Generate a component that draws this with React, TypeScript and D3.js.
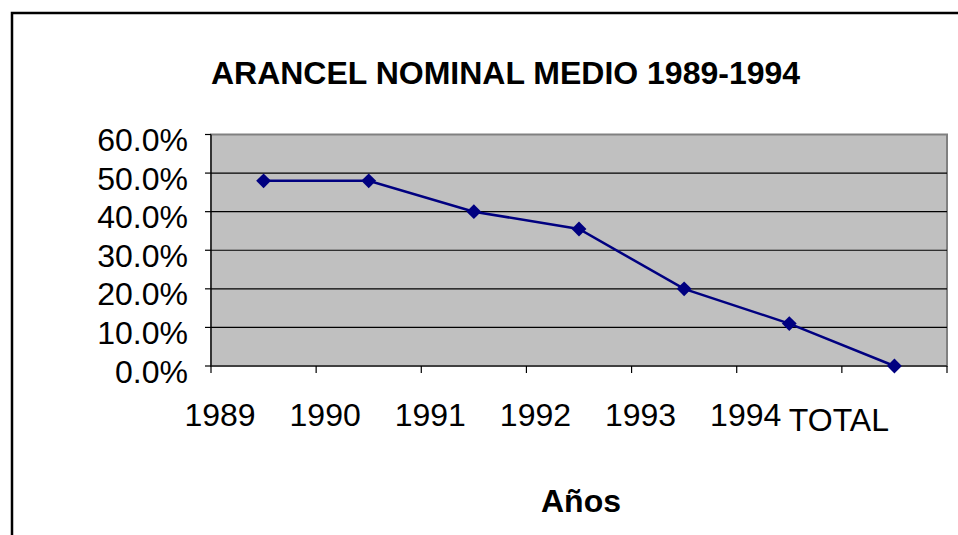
import React from "react";
import * as d3 from "d3";

const categories: string[] = ["1989", "1990", "1991", "1992", "1993", "1994", "TOTAL"];
const values: number[] = [0.48, 0.48, 0.40, 0.355, 0.20, 0.11, 0.0];
const yTicks: number[] = [0, 0.1, 0.2, 0.3, 0.4, 0.5, 0.6];
const title = "ARANCEL NOMINAL MEDIO 1989-1994";
const xTitle = "Años";

const W = 958;
const H = 535;
const plot = { left: 211, right: 947, top: 134.5, bottom: 366 };
const FONT = "'Liberation Sans', Arial, sans-serif";

export default function App() {
  const x = d3.scaleBand<string>().domain(categories).range([plot.left, plot.right]).padding(0);
  const y = d3.scaleLinear().domain([0, 0.6]).range([plot.bottom, plot.top]);
  const fmt = d3.format(".1%");
  const line = d3
    .line<number>()
    .x((_, i) => (x(categories[i]) as number) + x.bandwidth() / 2)
    .y((d) => y(d));
  const diamond = d3.symbol().type(d3.symbolDiamond2).size(140)();

  return (
    <svg width={W} height={H} style={{ position: "absolute", left: 0, top: 0, display: "block" }}>
      <rect x={0} y={0} width={W} height={H} fill="#fff" />
      {/* outer chart frame */}
      <rect x={12} y={13} width={W + 20} height={H + 20} fill="none" stroke="#000" strokeWidth={2.5} />
      <text x={505.5} y={84} textAnchor="middle" fontFamily={FONT} fontWeight="bold" fontSize={32}>
        {title}
      </text>
      {/* plot area */}
      <rect
        x={plot.left}
        y={plot.top}
        width={plot.right - plot.left}
        height={plot.bottom - plot.top}
        fill="#c0c0c0"
        stroke="#808080"
        strokeWidth={2}
      />
      {yTicks.map((t) => (
        <g key={t}>
          {t > 0 && t < 0.6 && (
            <line x1={plot.left} x2={plot.right} y1={y(t)} y2={y(t)} stroke="#000" strokeWidth={1.2} />
          )}
          <line x1={plot.left - 6} x2={plot.left} y1={y(t)} y2={y(t)} stroke="#000" strokeWidth={1.2} />
          <text
            x={188}
            y={y(t) + 16.5}
            textAnchor="end"
            fontFamily={FONT}
            fontSize={32}
            fill="#000"
          >
            {fmt(t)}
          </text>
        </g>
      ))}
      {/* axes */}
      <line x1={plot.left} x2={plot.left} y1={plot.top} y2={plot.bottom} stroke="#000" strokeWidth={1.2} />
      <line x1={plot.left} x2={plot.right} y1={plot.bottom} y2={plot.bottom} stroke="#000" strokeWidth={1.2} />
      {categories.map((c) => (
        <line
          key={"t" + c}
          x1={x(c) as number}
          x2={x(c) as number}
          y1={plot.bottom}
          y2={plot.bottom + 7}
          stroke="#000"
          strokeWidth={1.2}
        />
      ))}
      <line x1={plot.right} x2={plot.right} y1={plot.bottom} y2={plot.bottom + 7} stroke="#000" strokeWidth={1.2} />
      {categories.map((c, i) => {
        const last = i === categories.length - 1;
        return (
          <text
            key={"l" + c}
            x={(x(c) as number) + (last ? -3 : 9)}
            y={last ? 431 : 426}
            textAnchor="middle"
            fontFamily={FONT}
            fontSize={32}
            fill="#000"
          >
            {c}
          </text>
        );
      })}
      {/* series */}
      <path d={line(values) || ""} fill="none" stroke="#000080" strokeWidth={2.5} />
      {values.map((v, i) => (
        <path
          key={"m" + i}
          d={diamond || ""}
          transform={`translate(${(x(categories[i]) as number) + x.bandwidth() / 2},${y(v)})`}
          fill="#000080"
        />
      ))}
      <text x={581} y={512} textAnchor="middle" fontFamily={FONT} fontWeight="bold" fontSize={32}>
        {xTitle}
      </text>
    </svg>
  );
}
